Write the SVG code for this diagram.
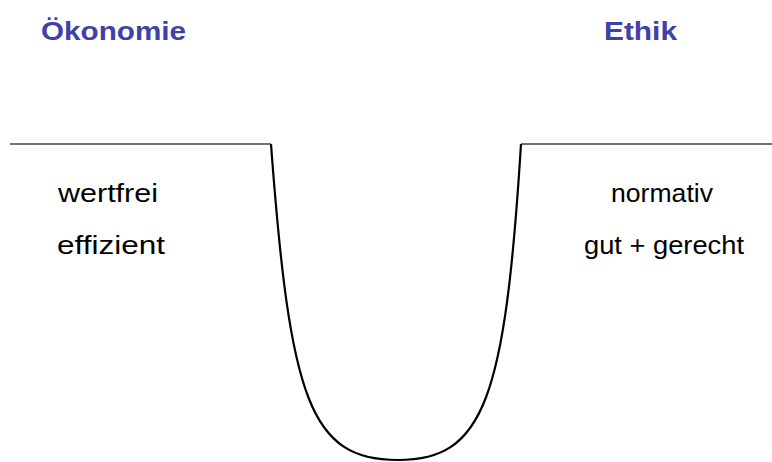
<svg xmlns="http://www.w3.org/2000/svg" width="772" height="462" viewBox="0 0 772 462">
<style>
.h{font-family:"Liberation Sans",Arial,sans-serif;font-weight:bold;font-size:26px;fill:#4040A8}
.t{font-family:"Liberation Sans",Arial,sans-serif;font-size:25.5px;fill:#000}
.flat{stroke:#404040;stroke-width:1.5;fill:none}
.curve{stroke:#000;stroke-width:2.2;fill:none}
</style>
<rect width="772" height="462" fill="#fff"/>
<g id="connectors">
<line class="flat" x1="10" y1="144" x2="271" y2="144"/>
<line class="flat" x1="521" y1="144" x2="772" y2="144"/>
<path class="curve" d="M271,144 C290,400 310,460 398,460 C484,460 505,400 521,144"/>
</g>
<g id="oekonomie"><text class="h" x="41" y="40" textLength="145" lengthAdjust="spacingAndGlyphs">Ökonomie</text></g>
<g id="ethik"><text class="h" x="604" y="40" textLength="73" lengthAdjust="spacingAndGlyphs">Ethik</text></g>
<g id="wertfrei"><text class="t" x="58" y="202" textLength="100" lengthAdjust="spacingAndGlyphs">wertfrei</text></g>
<g id="effizient"><text class="t" x="57" y="254" textLength="108" lengthAdjust="spacingAndGlyphs">effizient</text></g>
<g id="normativ"><text class="t" x="611" y="202" textLength="102" lengthAdjust="spacingAndGlyphs">normativ</text></g>
<g id="gutgerecht"><text class="t" x="584" y="254" textLength="160" lengthAdjust="spacingAndGlyphs">gut + gerecht</text></g>
</svg>
